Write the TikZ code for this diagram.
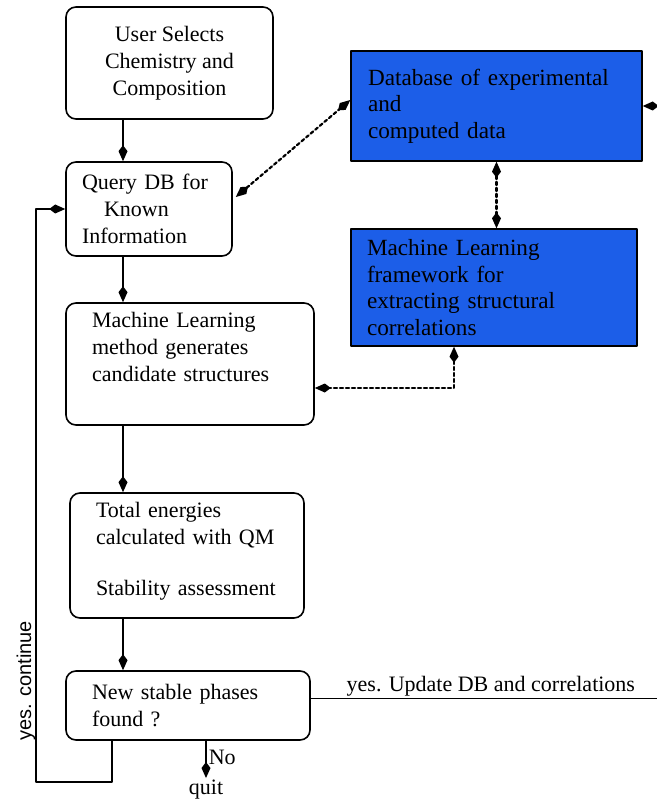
\documentclass[tikz,border=0pt]{standalone}
\usepackage{fontspec}
\setmainfont{Liberation Serif}
\newfontfamily\labelsans{Liberation Sans}
\usetikzlibrary{positioning,calc,arrows.meta}
\definecolor{dbblue}{RGB}{28,94,232}

\begin{document}
\begin{tikzpicture}[x=0.5pt, y=-0.5pt, line cap=round, line join=round,
		>={Kite[length=8pt,width=4.5pt,inset=3pt]},
		proc/.style={draw, line width=0.8pt, rounded corners=5pt, align=left, inner ysep=0pt,
			font=\fontsize{11}{13.5}\selectfont},
		datbox/.style={draw=black, line width=0.7pt, fill=dbblue, align=left, inner ysep=0pt,
			font=\fontsize{11.6}{13.2}\selectfont},
		flow/.style={->, line width=0.75pt},
		dotlink/.style={<->, line width=1.1pt, dash pattern=on 1.6pt off 1.4pt},
		lbl/.style={font=\fontsize{11}{13.5}\selectfont, inner sep=1pt}]
		\useasboundingbox (0,0) rectangle (657,807);
		% left column
		\node[proc, align=center, minimum width=103.5pt, minimum height=56pt] (user) at (169.5,63)
			{User Selects\\Chemistry and\\Composition};
		\node[proc, minimum width=83pt, minimum height=47pt, inner xsep=8pt, text width=67pt] (query) at (149,209)
			{Query DB for\\\hspace*{11pt}Known\\Information\\[-6pt]};
		\node[proc, minimum width=124pt, minimum height=61pt, inner xsep=13pt, text width=98pt] (mlm) at (190,364)
			{Machine Learning\\method generates\\candidate structures\\\strut};
		\node[proc, minimum width=117pt, minimum height=62.5pt, inner xsep=13pt, text width=91pt] (tot) at (187,555.5)
			{Total energies\\calculated with QM\\[12pt]Stability assessment\\[-6.5pt]\mbox{}};
		\node[proc, minimum width=122pt, minimum height=34.5pt, inner xsep=13pt, text width=96pt] (new) at (188,705.5)
			{New stable phases\\found ?};
		% database side
		\node[datbox, minimum width=145.5pt, minimum height=55pt, inner xsep=8.5pt, text width=128.5pt] (db) at (496.5,106)
			{Database of experimental\\and\\computed data};
		\node[datbox, minimum width=143pt, minimum height=58.5pt, inner xsep=8pt, text width=127pt] (mlf) at (494,287.5)
			{Machine Learning\\framework for\\extracting structural\\correlations};
		% labels
		\node[lbl, anchor=north] (quit) at (206,778) {quit};
		\node[font=\labelsans\fontsize{10}{12}\selectfont, rotate=90, inner sep=0pt] (cont) at (26,681) {yes. continue};
		% helper points
		\coordinate (spine) at (123,0);
		\coordinate (lpR) at (112,782);
		\coordinate (lpL) at (36,782);
		\coordinate (mlfx) at (454,388);
		\coordinate (farR) at (720,0);
		% main flow
		\draw[flow] (user.south -| spine) -- (query.north -| spine);
		\draw[flow] (query.south -| spine) -- (mlm.north -| spine);
		\draw[flow] (mlm.south -| spine) -- (tot.north -| spine);
		\draw[flow] (tot.south -| spine) -- (new.north -| spine);
		\draw[flow] (new.south -| quit.north) -- node[lbl, right, pos=0.45] {No} (quit.north);
		\draw[flow] (new.south -| lpR) -- (lpR) -- (lpL) |- (query.west);
		\draw[flow] ([yshift=3.5pt]new.east) -| node[lbl, above, pos=0.22] {yes. Update DB and correlations}
			(farR |- db.east) -- (db.east);
		% data links
		\draw[dotlink] ([shift={(1.5pt,6pt)}]query.east) -- ([yshift=3pt]db.west);
		\draw[dotlink] (db.south) -- (db.south |- mlf.north);
		\draw[dotlink] (mlf.south -| mlfx) -- (mlfx) -- (mlm.east |- mlfx);
	\end{tikzpicture}
\end{document}
